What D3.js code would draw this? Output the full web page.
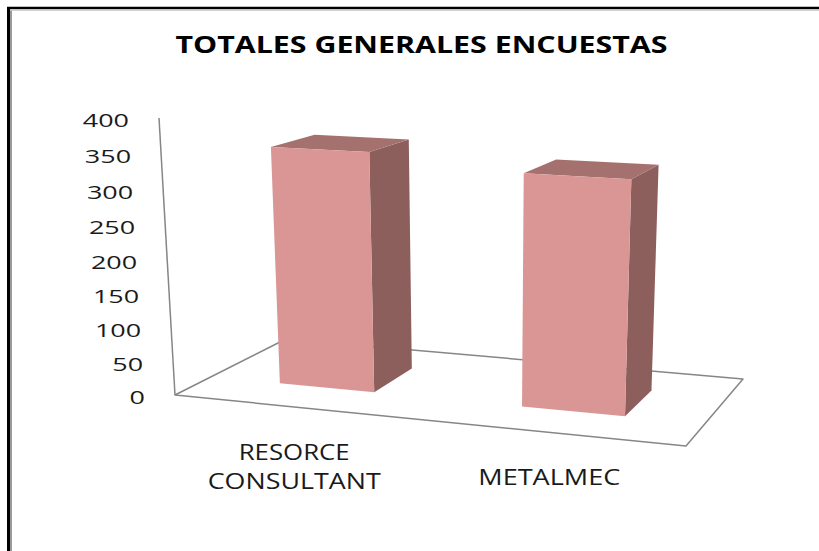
<!DOCTYPE html>
<html>
<head>
<meta charset="utf-8">
<script src="https://cdn.jsdelivr.net/npm/d3@7"></script>
<style>
  body { margin: 0; background: #fff; }
  svg { display: block; }
</style>
</head>
<body>
<svg id="chart" width="819" height="551"></svg>
<script>
const title = 'TOTALES GENERALES ENCUESTAS';
const categories = ['RESORCE CONSULTANT', 'METALMEC'];
const categoryLines = [['RESORCE', 'CONSULTANT'], ['METALMEC']];
const values = [352, 334];
const yTicks = [0, 50, 100, 150, 200, 250, 300, 350, 400];

// floor corners as seen: front-left, front-right, back-right, back-left
const floor = [[175, 395], [686, 446], [743, 379], [286, 339]];
// vertical edges converge to this point far below the picture
const vanish = [483, 5729];
const barDepth = [0.3, 0.7];

const colors = { front: '#d99694', side: '#8c5f5d', top: '#a5716f', axis: '#868686' };
const labelWidths = { 'RESORCE': 111, 'CONSULTANT': 173, 'METALMEC': 142 };

// unit square -> floor quad (Heckbert)
function squareToQuad(p) {
  const [p0, p1, p2, p3] = p;
  const dx1 = p1[0] - p2[0], dx2 = p3[0] - p2[0], dx3 = p0[0] - p1[0] + p2[0] - p3[0];
  const dy1 = p1[1] - p2[1], dy2 = p3[1] - p2[1], dy3 = p0[1] - p1[1] + p2[1] - p3[1];
  const den = dx1 * dy2 - dx2 * dy1;
  const g = (dx3 * dy2 - dx2 * dy3) / den;
  const h = (dx1 * dy3 - dx3 * dy1) / den;
  return {
    a: p1[0] - p0[0] + g * p1[0], b: p3[0] - p0[0] + h * p3[0], c: p0[0],
    d: p1[1] - p0[1] + g * p1[1], e: p3[1] - p0[1] + h * p3[1], f: p0[1],
    g, h
  };
}
const H = squareToQuad(floor);

const xBand = d3.scaleBand().domain(categories).range([0, 1])
  .paddingInner(0.6).paddingOuter(0.3);
const lift = d3.scaleLinear().domain([0, 400]).range([0, 0.04936]);

function project(u, v, val) {
  const t = lift(val);
  const X = H.a * u + H.b * v + H.c - t * vanish[0];
  const Y = H.d * u + H.e * v + H.f - t * vanish[1];
  const W = H.g * u + H.h * v + 1 - t;
  return [X / W, Y / W];
}

const svg = d3.select('#chart');
const poly = (pts) => 'M' + pts.map((p) => p.join(',')).join('L') + 'Z';

// frame
svg.append('line').attr('x1', 8.5).attr('y1', 8).attr('x2', 8.5).attr('y2', 551)
  .attr('stroke', '#000').attr('stroke-width', 3);
svg.append('line').attr('x1', 7).attr('y1', 8).attr('x2', 819).attr('y2', 8)
  .attr('stroke', '#000').attr('stroke-width', 2.5);
svg.append('line').attr('x1', 11).attr('y1', 10).attr('x2', 11).attr('y2', 551)
  .attr('stroke', '#9a9a9a').attr('stroke-width', 2);
svg.append('line').attr('x1', 10).attr('y1', 10).attr('x2', 819).attr('y2', 10)
  .attr('stroke', '#c4c4c4').attr('stroke-width', 1.5);

svg.append('text')
  .attr('x', 421.5).attr('y', 53)
  .attr('text-anchor', 'middle')
  .attr('font-family', 'Open Sans, sans-serif')
  .attr('font-weight', 'bold')
  .attr('font-size', 23)
  .attr('textLength', 492)
  .attr('lengthAdjust', 'spacingAndGlyphs')
  .attr('fill', '#000')
  .text(title);

// floor + value axis
const g = svg.append('g');
g.append('path')
  .attr('d', poly([project(0, 0, 0), project(1, 0, 0), project(1, 1, 0), project(0, 1, 0)]))
  .attr('fill', 'none')
  .attr('stroke', colors.axis)
  .attr('stroke-width', 1.5)
  .attr('stroke-linejoin', 'round');

const axisTop = project(0, 0, 400), axisBottom = project(0, 0, 0);
g.append('line')
  .attr('x1', axisBottom[0]).attr('y1', axisBottom[1])
  .attr('x2', axisTop[0]).attr('y2', axisTop[1])
  .attr('stroke', colors.axis).attr('stroke-width', 1.5);

g.selectAll('.tick-label')
  .data(yTicks)
  .enter()
  .append('text')
  .attr('class', 'tick-label')
  .attr('transform', (d) => {
    const p = project(0, 0, d);
    return `translate(${p[0] - 30},${p[1] + 9}) scale(1.45,1)`;
  })
  .attr('text-anchor', 'end')
  .attr('font-family', 'Open Sans, sans-serif')
  .attr('font-size', 18.6)
  .attr('fill', '#1a1a1a')
  .text((d) => d);

// bars: front, right side, top
const bars = g.selectAll('.bar')
  .data(categories.map((c, i) => ({ cat: c, value: values[i] })))
  .enter()
  .append('g')
  .attr('class', 'bar');

const [v0, v1] = barDepth;
bars.append('path')
  .attr('fill', colors.side)
  .attr('d', (d) => {
    const u1 = xBand(d.cat) + xBand.bandwidth();
    return poly([project(u1, v0, 0), project(u1, v1, 0), project(u1, v1, d.value), project(u1, v0, d.value)]);
  });
bars.append('path')
  .attr('fill', colors.top)
  .attr('d', (d) => {
    const u0 = xBand(d.cat), u1 = u0 + xBand.bandwidth();
    return poly([project(u0, v0, d.value), project(u1, v0, d.value), project(u1, v1, d.value), project(u0, v1, d.value)]);
  });
bars.append('path')
  .attr('fill', colors.front)
  .attr('d', (d) => {
    const u0 = xBand(d.cat), u1 = u0 + xBand.bandwidth();
    return poly([project(u0, v0, 0), project(u1, v0, 0), project(u1, v0, d.value), project(u0, v0, d.value)]);
  });

// category labels under the front edge
categories.forEach((c, i) => {
  const p = project(xBand(c) + xBand.bandwidth() / 2, 0, 0);
  const t = g.append('text')
    .attr('text-anchor', 'middle')
    .attr('font-family', 'Open Sans, sans-serif')
    .attr('font-size', 21)
    .attr('fill', '#1a1a1a');
  categoryLines[i].forEach((line, j) => {
    t.append('tspan')
      .attr('x', p[0])
      .attr('y', p[1] + 53 + j * 29)
      .attr('textLength', labelWidths[line])
      .attr('lengthAdjust', 'spacingAndGlyphs')
      .text(line);
  });
});
</script>
</body>
</html>
